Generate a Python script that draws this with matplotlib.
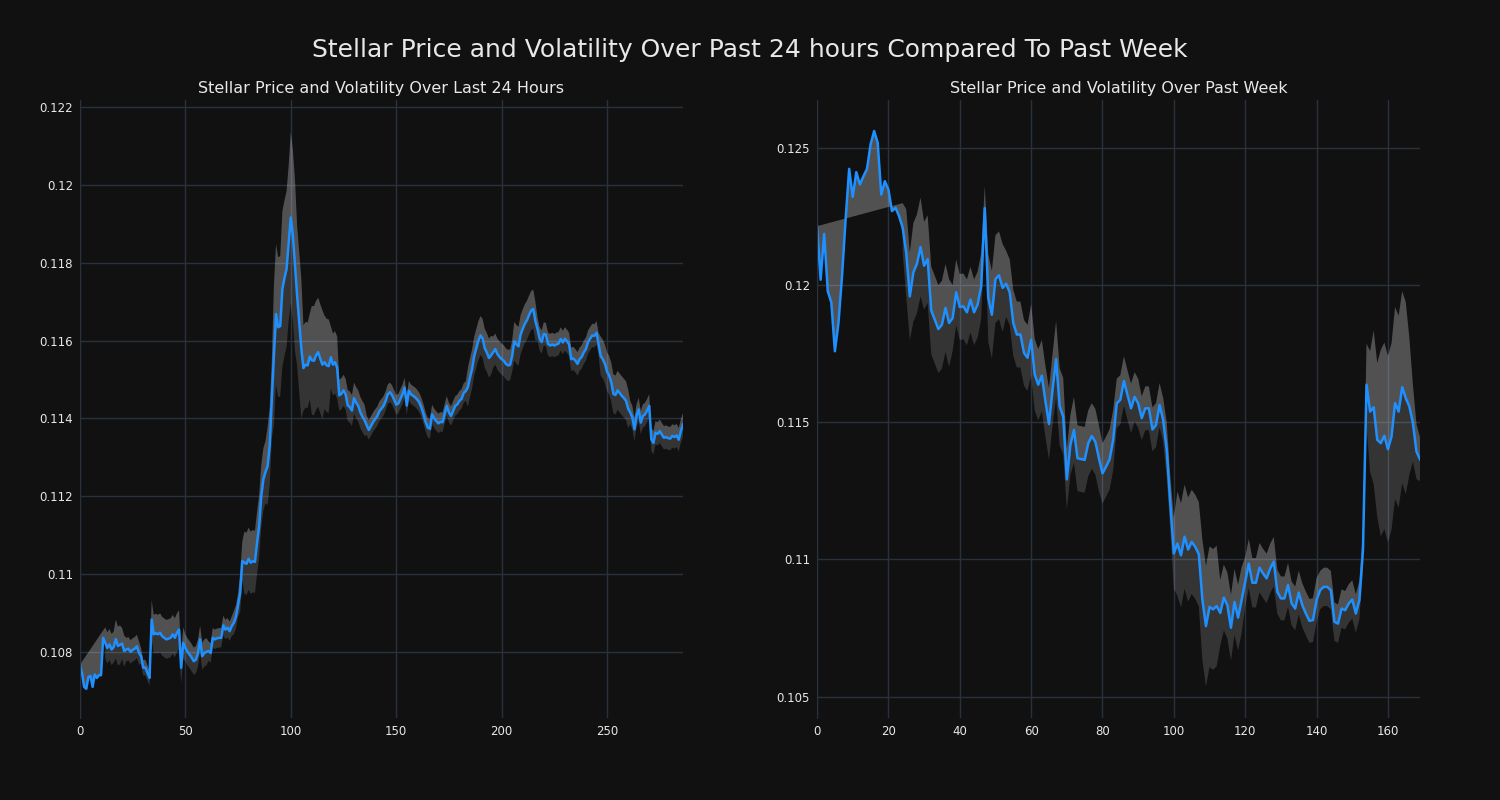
import matplotlib

matplotlib.use("Agg")  # headless PNG backend; must precede the pyplot import

import matplotlib.pyplot as plt  # noqa: E402
import numpy as np  # noqa: E402
from matplotlib.ticker import FuncFormatter  # noqa: E402

# 5-minute prices over the last 24 hours
day_price = [
    0.10767, 0.10745, 0.10710, 0.10705, 0.10735, 0.10738, 0.10710, 0.10742, 0.10733, 0.10740,
    0.10740, 0.10836, 0.10823, 0.10810, 0.10819, 0.10806, 0.10812, 0.10833, 0.10815, 0.10818,
    0.10821, 0.10802, 0.10806, 0.10808, 0.10800, 0.10805, 0.10808, 0.10814, 0.10797, 0.10789,
    0.10759, 0.10760, 0.10746, 0.10733, 0.10883, 0.10845, 0.10848, 0.10845, 0.10849, 0.10840,
    0.10836, 0.10832, 0.10834, 0.10836, 0.10845, 0.10836, 0.10849, 0.10857, 0.10759, 0.10823,
    0.10810, 0.10800, 0.10793, 0.10785, 0.10776, 0.10780, 0.10797, 0.10832, 0.10789, 0.10797,
    0.10800, 0.10802, 0.10797, 0.10836, 0.10832, 0.10835, 0.10836, 0.10836, 0.10868, 0.10857,
    0.10862, 0.10853, 0.10866, 0.10875, 0.10890, 0.10920, 0.10952, 0.11033, 0.11029, 0.11026,
    0.11039, 0.11029, 0.11033, 0.11031, 0.11080, 0.11123, 0.11200, 0.11243, 0.11262, 0.11277,
    0.11329, 0.11449, 0.11562, 0.11668, 0.11634, 0.11637, 0.11732, 0.11760, 0.11784, 0.11850,
    0.11916, 0.11869, 0.11792, 0.11715, 0.11647, 0.11579, 0.11529, 0.11538, 0.11536, 0.11559,
    0.11549, 0.11548, 0.11562, 0.11570, 0.11553, 0.11538, 0.11544, 0.11536, 0.11534, 0.11557,
    0.11538, 0.11544, 0.11530, 0.11459, 0.11463, 0.11472, 0.11462, 0.11433, 0.11429, 0.11420,
    0.11452, 0.11440, 0.11432, 0.11415, 0.11404, 0.11395, 0.11382, 0.11370, 0.11380, 0.11390,
    0.11398, 0.11405, 0.11418, 0.11425, 0.11432, 0.11445, 0.11462, 0.11467, 0.11460, 0.11448,
    0.11435, 0.11438, 0.11450, 0.11462, 0.11479, 0.11433, 0.11471, 0.11462, 0.11458, 0.11454,
    0.11448, 0.11440, 0.11427, 0.11410, 0.11390, 0.11376, 0.11373, 0.11410, 0.11400, 0.11393,
    0.11387, 0.11391, 0.11390, 0.11412, 0.11432, 0.11415, 0.11406, 0.11419, 0.11432, 0.11436,
    0.11445, 0.11450, 0.11465, 0.11470, 0.11480, 0.11505, 0.11527, 0.11560, 0.11580, 0.11600,
    0.11613, 0.11605, 0.11580, 0.11569, 0.11555, 0.11562, 0.11570, 0.11578, 0.11565, 0.11558,
    0.11552, 0.11548, 0.11540, 0.11536, 0.11537, 0.11560, 0.11598, 0.11590, 0.11585, 0.11615,
    0.11630, 0.11643, 0.11652, 0.11665, 0.11677, 0.11681, 0.11650, 0.11630, 0.11605, 0.11596,
    0.11617, 0.11615, 0.11591, 0.11587, 0.11590, 0.11587, 0.11590, 0.11592, 0.11604, 0.11595,
    0.11604, 0.11598, 0.11590, 0.11552, 0.11554, 0.11548, 0.11540, 0.11552, 0.11558, 0.11570,
    0.11578, 0.11596, 0.11605, 0.11613, 0.11612, 0.11620, 0.11590, 0.11560, 0.11552, 0.11540,
    0.11520, 0.11510, 0.11493, 0.11463, 0.11460, 0.11472, 0.11465, 0.11458, 0.11452, 0.11445,
    0.11425, 0.11415, 0.11402, 0.11372, 0.11406, 0.11423, 0.11389, 0.11406, 0.11410, 0.11420,
    0.11432, 0.11346, 0.11337, 0.11363, 0.11360, 0.11367, 0.11358, 0.11350, 0.11352, 0.11349,
    0.11348, 0.11355, 0.11352, 0.11356, 0.11345, 0.11367, 0.11384,
]

# rolling volatility (std) of the 5-minute prices; None = window not filled yet
day_vol = (
    [0.0] + [None] * 11
    + [0.0004, 0.0004, 0.0004, 0.0004, 0.0004, 0.0005, 0.0005, 0.0005, 0.0004, 0.0004]
    + [0.0003, 0.0003, 0.0003, 0.0003, 0.0003, 0.0003, 0.0003, 0.0002, 0.0002, 0.0002]
    + [0.0002, 0.0002, 0.0005, 0.0005, 0.0005, 0.0005, 0.0005, 0.0005, 0.0005, 0.0005]
    + [0.0005, 0.0005, 0.0005, 0.0005, 0.0005, 0.0005, 0.0004, 0.0004, 0.00035, 0.00035]
    + [0.00035, 0.00035, 0.00035, 0.00035, 0.00035, 0.00035, 0.00035, 0.00035, 0.00035, 0.00025]
    + [0.00025, 0.00025, 0.00025, 0.00025, 0.00025, 0.00025, 0.00025, 0.00025, 0.00025, 0.00025]
    + [0.00025, 0.0003, 0.0003, 0.0003, 0.0005, 0.0005, 0.0008, 0.0008, 0.0008, 0.0008]
    + [0.0008, 0.0008, 0.0008, 0.0008, 0.0008, 0.0008, 0.0008, 0.0010, 0.0010, 0.0010]
    + [0.0018, 0.0018, 0.0018, 0.0018, 0.0020, 0.0020, 0.0020, 0.0020, 0.0022, 0.0022]
    + [0.0022, 0.0018, 0.0018, 0.0018, 0.0011, 0.0011, 0.0011, 0.0011, 0.0014, 0.0014]
    + [0.0014, 0.0014, 0.0014, 0.0014, 0.0012, 0.0012, 0.0012, 0.0008, 0.0008, 0.0008]
    + [0.0008, 0.0004, 0.0004, 0.0004, 0.0004, 0.0004, 0.0004, 0.0004, 0.0004, 0.0004]
    + [0.0004, 0.0004, 0.0004, 0.0004]
    + [0.00025] * 48
    + [0.0005] * 12
    + [0.0004] * 10
    + [0.0005] * 11
    + [0.0003] * 30
    + [0.0005] * 14
    + [0.0003] * 26
)

# hourly prices over the past week
week_price = [
    0.12215, 0.12020, 0.12187, 0.11978, 0.11937, 0.11759, 0.11862, 0.12032, 0.12239, 0.12424,
    0.12322, 0.12412, 0.12367, 0.12397, 0.12424, 0.12513, 0.12562, 0.12519, 0.12330, 0.12379,
    0.12349, 0.12270, 0.12282, 0.12251, 0.12209, 0.12117, 0.11959, 0.12047, 0.12078, 0.12139,
    0.12071, 0.12095, 0.11908, 0.11874, 0.11840, 0.11856, 0.11917, 0.11862, 0.11880, 0.11974,
    0.11920, 0.11923, 0.11901, 0.11947, 0.11901, 0.11929, 0.11996, 0.12281, 0.11953, 0.11892,
    0.12022, 0.12036, 0.11990, 0.12005, 0.11974, 0.11862, 0.11820, 0.11820, 0.11753, 0.11735,
    0.11801, 0.11674, 0.11637, 0.11670, 0.11577, 0.11494, 0.11619, 0.11730, 0.11557, 0.11521,
    0.11292, 0.11417, 0.11472, 0.11369, 0.11366, 0.11363, 0.11423, 0.11450, 0.11429, 0.11369,
    0.11314, 0.11338, 0.11365, 0.11436, 0.11569, 0.11582, 0.11651, 0.11600, 0.11551, 0.11593,
    0.11569, 0.11515, 0.11551, 0.11551, 0.11474, 0.11490, 0.11563, 0.11509, 0.11399, 0.11204,
    0.11022, 0.11058, 0.11015, 0.11083, 0.11036, 0.11064, 0.11046, 0.11019, 0.10852, 0.10757,
    0.10827, 0.10818, 0.10830, 0.10805, 0.10861, 0.10833, 0.10751, 0.10845, 0.10788, 0.10852,
    0.10919, 0.10985, 0.10915, 0.10915, 0.10970, 0.10949, 0.10931, 0.10967, 0.10992, 0.10882,
    0.10858, 0.10858, 0.10907, 0.10840, 0.10821, 0.10879, 0.10833, 0.10803, 0.10776, 0.10779,
    0.10852, 0.10888, 0.10900, 0.10900, 0.10888, 0.10773, 0.10766, 0.10821, 0.10815, 0.10839,
    0.10854, 0.10803, 0.10852, 0.11034, 0.11637, 0.11539, 0.11555, 0.11436, 0.11424, 0.11451,
    0.11402, 0.11448, 0.11570, 0.11539, 0.11628, 0.11588, 0.11558, 0.11497, 0.11393, 0.11365,
]

week_vol = (
    [0.0] + [None] * 23
    + [0.0009, 0.0016, 0.0016, 0.0018, 0.0018, 0.0018, 0.0016, 0.0016, 0.0016, 0.0016]
    + [0.0016, 0.0016, 0.0016, 0.0016, 0.0012, 0.0012, 0.0012, 0.0012, 0.0012, 0.0012]
    + [0.0012, 0.0012, 0.0012, 0.0008, 0.0016, 0.0016, 0.0016, 0.0016, 0.0016, 0.0012]
    + [0.0012, 0.0012, 0.0012, 0.0012, 0.0012, 0.0012, 0.0013, 0.0013, 0.0013, 0.0013]
    + [0.0013, 0.0013, 0.0013, 0.0014, 0.0014, 0.0014, 0.0011, 0.0011, 0.0012, 0.0012]
    + [0.0012, 0.0012, 0.0012, 0.0012, 0.0012, 0.0012, 0.0011, 0.0011, 0.0011, 0.0011]
    + [0.0009, 0.0009, 0.0009, 0.0009, 0.0009, 0.0009, 0.0009, 0.0008, 0.0008, 0.0008]
    + [0.0008, 0.0008, 0.0008, 0.0008, 0.0010, 0.0010, 0.0013, 0.0019, 0.0019, 0.0019]
    + [0.0019, 0.0019, 0.0019, 0.0019, 0.0022, 0.0022, 0.0022, 0.0022, 0.0022, 0.0012]
    + [0.0012, 0.0012, 0.0012, 0.0012, 0.0012, 0.0012, 0.0009, 0.0009, 0.0009, 0.0009]
    + [0.0009, 0.0009, 0.0009, 0.0009, 0.0009, 0.0008, 0.0008, 0.0008, 0.0008, 0.0008]
    + [0.0008, 0.0008, 0.0008, 0.0008, 0.0008, 0.0008, 0.0008, 0.0007, 0.0007, 0.0007]
    + [0.0007, 0.0007, 0.0007, 0.0007, 0.0007, 0.0007, 0.0007, 0.0007, 0.0007, 0.0007]
    + [0.0015, 0.0022, 0.0028, 0.0028, 0.0034, 0.0034, 0.0034, 0.0034, 0.0035, 0.0035]
    + [0.0035, 0.0035, 0.0025, 0.0014, 0.0010, 0.0008]
)

BG = "#111111"
GRID = "#29313d"
TEXT = "#e8e8e8"
LINE = "#1e90ff"


def price_panel(ax, price, vol, title, ylim):
    x = np.arange(len(price))
    p = np.array(price)
    v = np.array([np.nan if s is None else s for s in vol], dtype=float)
    ok = ~np.isnan(v)
    xv = x[ok]
    upper = (p + v)[ok]
    # upper band: polygon from the price line back along the known upper points
    ax.fill(np.r_[x, xv[::-1]], np.r_[p, upper[::-1]], color="white", alpha=0.27, lw=0)
    # lower band: plain fill_between, gaps where the window is not filled
    ax.fill_between(x, p - v, p, color="white", alpha=0.15, lw=0)
    ax.plot(x, p, color=LINE, lw=1.8)

    ax.set_facecolor(BG)
    ax.set_xlim(0, len(price) - 1)
    ax.set_ylim(*ylim)
    ax.set_title(title, color=TEXT, fontsize=11.5, pad=5)
    ax.grid(True, color=GRID, lw=1)
    ax.set_axisbelow(True)
    for side in ("top", "right", "bottom"):
        ax.spines[side].set_visible(False)
    ax.spines["left"].set_color(GRID)
    ax.tick_params(colors=TEXT, labelsize=8.5, length=0, pad=5)
    ax.yaxis.set_major_formatter(FuncFormatter(lambda val, pos: f"{val:g}"))


fig = plt.figure(figsize=(15, 8), dpi=100, facecolor=BG)
ax1 = fig.add_axes([0.0533, 0.1025, 0.402, 0.7725])
ax2 = fig.add_axes([0.5447, 0.1025, 0.402, 0.7725])

price_panel(ax1, day_price, day_vol, "Stellar Price and Volatility Over Last 24 Hours",
            (0.10630, 0.12218))
price_panel(ax2, week_price, week_vol, "Stellar Price and Volatility Over Past Week",
            (0.10422, 0.12675))

fig.suptitle("Stellar Price and Volatility Over Past 24 hours Compared To Past Week",
             color=TEXT, fontsize=18, y=0.9375, va="center")

fig.savefig("out.png", facecolor=BG)
plt.close(fig)
